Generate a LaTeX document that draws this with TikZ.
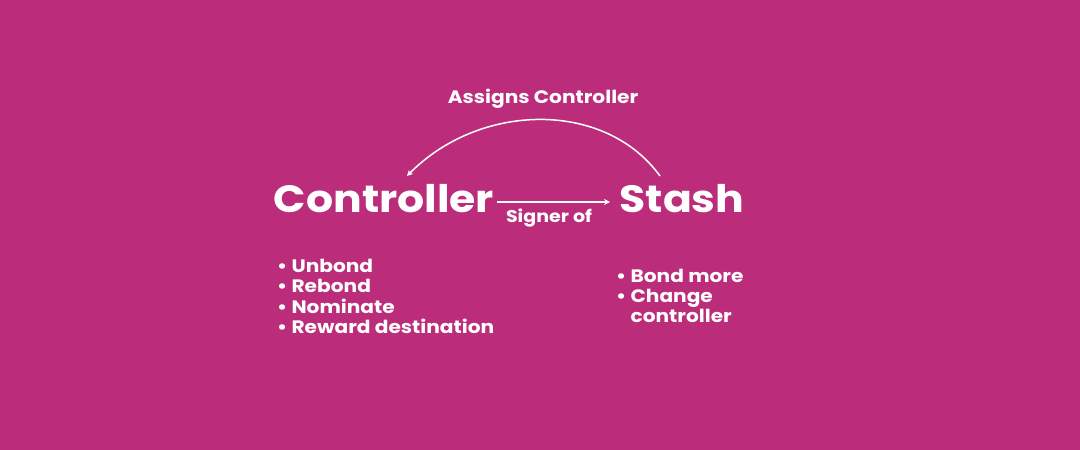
\documentclass[tikz,border=0pt]{standalone}
\usepackage{fontspec}
\setmainfont{Poppins}[FakeStretch=1.12]
\usetikzlibrary{arrows.meta}
\definecolor{bg}{HTML}{BB2D7A}
\tikzset{
  big/.style={text=white,font=\fontsize{38}{40}\selectfont\bfseries,inner sep=0pt},
  lbl/.style={text=white,font=\fontsize{17}{20}\selectfont\bfseries,inner sep=0pt},
  lst/.style={text=white,font=\fontsize{18}{20.3}\selectfont\bfseries,inner sep=0pt,align=left},
  conn/.style={white,line width=1.5pt,-{Stealth[length=6pt,width=6pt]}}
}
\begin{document}
\begin{tikzpicture}[x=1pt,y=-1pt]
\fill[bg] (0,0) rectangle (1080,450);
\useasboundingbox (0,0) rectangle (1080,450);
\node[big] (ctrl) at (384,199) {Controller};
\node[big] (stash) at (682,199) {Stash};
\node[lbl] (signer) at (549,218) {Signer of};
\node[lbl,font=\fontsize{18}{20}\selectfont\bfseries] (assigns) at (543,99) {Assigns Controller};
\coordinate (a1) at (497,202);
\coordinate (a2) at (610,202);
\draw[conn] (a1) -- (a2);
\coordinate (s1) at (660,176);
\coordinate (c1) at (407,176);
\draw[conn] (s1) .. controls (605,100) and (480,102) .. (c1);
\node[lst,anchor=north west] (left) at (277,259) {• Unbond\\• Rebond\\• Nominate\\• Reward destination};
\node[lst,anchor=north west] (right) at (616,268.5) {• Bond more\\• Change\\\phantom{• }controller};
\end{tikzpicture}
\end{document}
